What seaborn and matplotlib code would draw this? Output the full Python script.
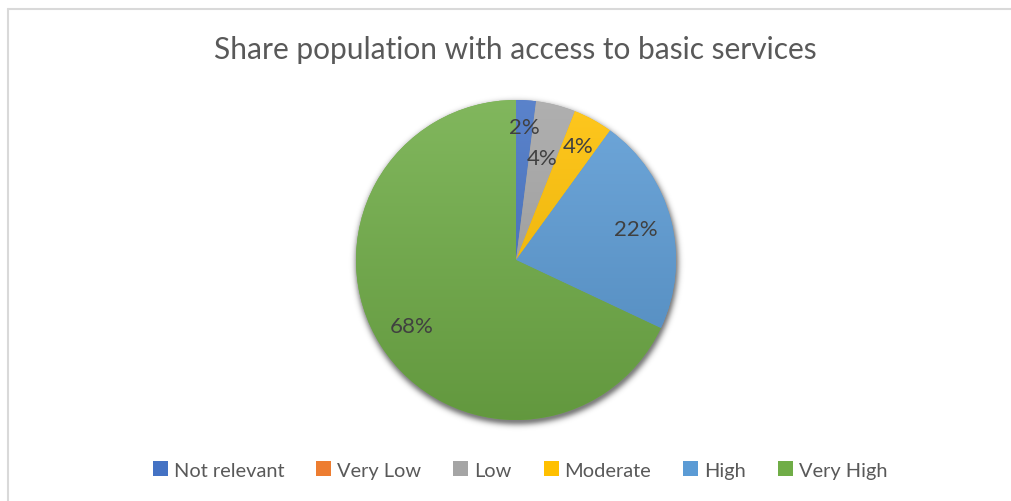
import numpy as np
import matplotlib
matplotlib.use("Agg")
import matplotlib.pyplot as plt
from matplotlib.patches import Patch
from matplotlib.colors import to_rgb
import seaborn as sns

# Data
categories = ["Not relevant", "Very Low", "Low", "Moderate", "High", "Very High"]
shares = [2, 0, 4, 4, 22, 68]
title = "Share population with access to basic services"

sns.set_theme(style="white")
plt.rcParams["font.family"] = ["Lato", "DejaVu Sans"]
palette = sns.color_palette(["#4472C4", "#ED7D31", "#A5A5A5", "#FFC000", "#5B9BD5", "#70AD47"])

W, H = 1011, 502
fig = plt.figure(figsize=(W / 100, H / 100), dpi=100)
ax = fig.add_axes([0, 0, 1, 1])
ax.set_axis_off()

cx, cy, R = 516, H - 261, 160

# soft drop shadow under the pie
gx, gy = np.meshgrid(np.arange(cx - R - 30, cx + R + 30), np.arange(cy - R - 30, cy + R + 30))
d = np.hypot(gx - (cx + 1), gy - (cy - 3))
alpha = 0.5 * np.exp(-(np.clip(d - R + 2, 0, None) / 5) ** 2)
shadow = np.zeros(gx.shape + (4,))
shadow[..., 3] = alpha
ax.imshow(shadow, extent=[gx.min(), gx.max(), gy.min(), gy.max()], origin="lower",
          interpolation="bilinear", zorder=0)

wedges, _ = ax.pie(shares, colors=palette, startangle=90, counterclock=False,
                   center=(cx, cy), radius=R, wedgeprops=dict(linewidth=0))

# vertical gradient fill: lighter at the top, darker at the bottom
t = np.linspace(0, 1, 256)[:, None, None]
for w, col in zip(wedges, palette):
    base = np.array(to_rgb(col))
    light = base + (1 - base) * 0.12
    dark = base * 0.88
    grad = dark * (1 - t) + light * t
    im = ax.imshow(grad, extent=[cx - R, cx + R, cy - R, cy + R], origin="lower",
                   interpolation="bilinear", zorder=2)
    im.set_clip_path(w)

# percentage labels
label_dist = [0.83, 0, 0.66, 0.81, 0.77, 0.77]
cum = np.cumsum([0] + shares[:-1])
total = sum(shares)
for v, c0, dist in zip(shares, cum, label_dist):
    if v == 0:
        continue
    ang = np.deg2rad(90 - 360 * (c0 + v / 2) / total)
    ax.text(cx + dist * R * np.cos(ang), cy + dist * R * np.sin(ang), f"{v}%",
            ha="center", va="center", fontsize=16, color="#404040", zorder=5)

ax.text(W / 2 + 10, H - 50, title, ha="center", va="center", fontsize=21.5, color="#595959")

handles = [Patch(facecolor=c, edgecolor="none") for c in palette]
ax.legend(handles, categories, loc="center", bbox_to_anchor=(520 / W, 1 - 471 / H),
          ncol=6, frameon=False, fontsize=14.4, labelcolor="#595959",
          handlelength=0.75, handleheight=0.75, handletextpad=0.3, columnspacing=1.6)

# chart frame
ax.plot([7.5, 7.5], [0, H - 9.5], color="#D9D9D9", lw=1.5, zorder=1)
ax.plot([7.5, W], [H - 9.5, H - 9.5], color="#D9D9D9", lw=1.5, zorder=1)

ax.set_xlim(0, W)
ax.set_ylim(0, H)
ax.set_aspect("auto")
fig.savefig("out.png", dpi=100)
